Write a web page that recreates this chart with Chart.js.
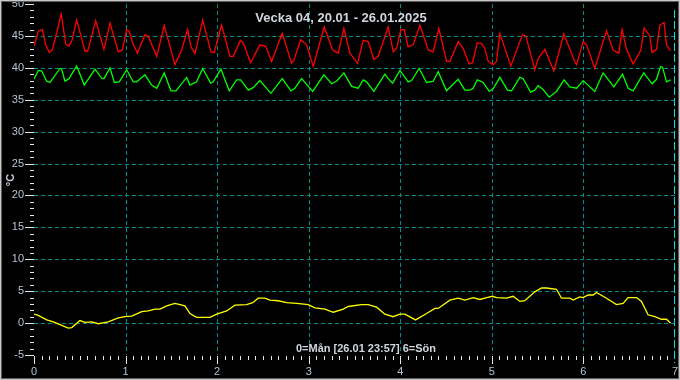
<!DOCTYPE html>
<html>
<head>
<meta charset="utf-8">
<script src="https://cdn.jsdelivr.net/npm/chart.js@4"></script>
<style>
html,body{margin:0;padding:0;background:#000;}
canvas{display:block;}
</style>
</head>
<body>
<canvas id="c" width="680" height="380"></canvas>
<script>
// ---- data (x = day since Monday 0:00, y = °C) ----
const chartTitle = 'Vecka 04, 20.01 - 26.01.2025';
const footerText = '0=Mån [26.01 23:57] 6=Sön';
const yTitle = '°C';
const xTickLabels = ['0','1','2','3','4','5','6','7'];

const redDays = [0.000,0.047,0.091,0.128,0.167,0.200,0.298,0.346,0.382,0.418,0.466,0.557,0.586,0.674,0.764,0.830,0.920,0.964,1.012,1.040,1.078,1.128,1.212,1.248,1.340,1.422,1.539,1.612,1.678,1.714,1.758,1.842,1.932,1.968,2.049,2.140,2.176,2.254,2.285,2.366,2.467,2.529,2.595,2.711,2.813,2.838,2.912,2.977,3.049,3.169,3.261,3.322,3.384,3.450,3.534,3.595,3.650,3.712,3.759,3.868,3.923,3.960,4.007,4.043,4.086,4.141,4.214,4.305,4.359,4.421,4.505,4.541,4.632,4.687,4.752,4.789,4.840,4.887,4.924,4.960,5.014,5.051,5.087,5.207,5.335,5.371,5.469,5.506,5.579,5.677,5.786,5.906,5.925,5.997,6.034,6.124,6.252,6.324,6.386,6.422,6.470,6.543,6.627,6.663,6.725,6.750,6.798,6.834,6.881,6.907,6.951];
const redTemps = [43.4,45.7,46.0,43.6,42.4,42.8,48.4,43.7,43.4,44.4,47.5,42.6,42.6,47.4,42.9,47.0,42.5,42.8,46.0,45.7,43.9,42.3,45.2,44.9,41.8,46.6,40.5,42.8,46.0,43.3,42.2,47.5,42.5,42.4,46.7,41.8,41.8,44.3,43.9,40.8,43.6,43.4,41.0,45.4,40.7,41.2,44.4,43.6,40.2,46.4,42.8,42.3,46.2,42.3,40.7,44.3,44.1,41.3,41.8,46.4,42.5,43.1,46.0,46.0,43.3,43.6,46.7,42.8,42.5,46.2,41.0,41.0,44.1,43.0,40.6,40.8,43.9,43.8,43.0,41.0,40.5,41.0,45.4,40.3,45.2,45.0,39.7,41.5,42.9,39.5,45.3,41.0,40.5,44.1,43.6,39.9,45.8,42.8,42.3,46.0,42.9,40.6,42.8,46.2,45.0,42.4,42.9,46.7,47.1,43.6,42.7];

const greenDays = [0.000,0.047,0.084,0.139,0.175,0.284,0.302,0.338,0.382,0.466,0.549,0.666,0.739,0.764,0.830,0.877,0.931,1.012,1.084,1.121,1.212,1.285,1.340,1.422,1.496,1.550,1.667,1.703,1.776,1.842,1.929,1.957,2.041,2.132,2.213,2.257,2.339,2.394,2.467,2.587,2.711,2.806,2.849,2.922,3.043,3.166,3.250,3.304,3.384,3.468,3.540,3.595,3.632,3.712,3.832,3.868,3.916,3.996,4.086,4.123,4.206,4.287,4.359,4.414,4.505,4.632,4.705,4.760,4.796,4.840,4.905,4.971,5.014,5.087,5.171,5.215,5.306,5.342,5.423,5.469,5.506,5.560,5.626,5.706,5.789,5.852,5.925,5.997,6.124,6.215,6.332,6.427,6.488,6.543,6.659,6.750,6.798,6.842,6.864,6.907,6.951];
const greenTemps = [38.2,39.6,39.5,37.9,37.7,39.9,39.8,37.9,38.3,40.3,37.3,39.8,38.4,38.3,40.0,37.7,37.8,39.7,37.8,37.8,38.9,37.3,36.8,39.2,36.4,36.4,38.5,37.3,37.8,39.9,37.6,37.8,39.8,36.4,38.1,38.1,36.5,36.9,38.0,36.0,38.3,36.4,36.8,38.3,36.3,38.9,37.5,37.9,39.2,37.1,36.8,38.1,37.8,36.3,39.0,38.3,37.6,39.6,37.8,38.0,39.9,37.7,37.9,39.4,36.4,38.2,36.5,36.5,36.8,38.1,37.7,36.3,36.7,38.5,36.5,36.4,38.5,38.3,36.2,36.5,37.2,36.6,35.4,36.3,38.1,37.0,36.8,38.0,36.3,39.2,37.0,39.0,36.8,36.4,39.2,37.5,38.2,40.2,40.1,37.8,38.1];

const yellowDays = [0.000,0.047,0.139,0.211,0.374,0.412,0.502,0.557,0.630,0.702,0.811,0.920,0.993,1.067,1.176,1.248,1.321,1.376,1.449,1.539,1.648,1.703,1.776,1.921,1.995,2.104,2.194,2.322,2.388,2.449,2.522,2.576,2.667,2.759,2.868,2.995,3.068,3.177,3.268,3.377,3.431,3.577,3.650,3.741,3.832,3.922,3.996,4.050,4.167,4.287,4.378,4.414,4.541,4.632,4.705,4.796,4.869,4.942,5.007,5.051,5.160,5.233,5.306,5.360,5.469,5.543,5.597,5.706,5.761,5.852,5.888,5.961,5.997,6.051,6.106,6.143,6.252,6.361,6.433,6.488,6.580,6.634,6.706,6.779,6.853,6.907,6.951];
const yellowTemps = [1.4,1.2,0.5,0.2,-0.8,-0.7,0.4,0.1,0.2,-0.1,0.2,0.8,1.0,1.1,1.8,1.9,2.2,2.2,2.7,3.1,2.7,1.5,0.9,0.9,1.4,1.9,2.8,2.9,3.2,3.9,3.9,3.6,3.5,3.2,3.1,2.9,2.4,2.2,1.7,2.2,2.6,2.9,2.9,2.5,1.4,1.0,1.4,1.4,0.5,1.5,2.3,2.3,3.6,3.9,3.6,4.0,3.7,4.0,4.2,4.0,3.9,4.2,3.4,3.5,4.9,5.5,5.5,5.3,3.9,3.9,3.6,4.1,4.0,4.4,4.4,4.8,3.9,2.9,3.1,4.0,4.0,3.4,1.3,1.0,0.6,0.6,0.0];

const zip = (xs, ys) => xs.map((x, i) => ({x, y: ys[i]}));

const GRID = '#008c8c';
const LABEL = '#b4c4d4';
const TEXT = '#d0d6de';

const framePlugin = {
  id: 'frame',
  beforeDraw(chart) {
    const c = chart.ctx;
    c.save();
    c.fillStyle = '#000';
    c.fillRect(0, 0, chart.width, chart.height);
    c.restore();
  },
  beforeDatasetsDraw(chart) {
    const c = chart.ctx;
    const xs = chart.scales.x, ys = chart.scales.y;
    const a = chart.chartArea;
    c.save();
    c.lineWidth = 1;
    c.strokeStyle = GRID;
    c.setLineDash([4, 3]);
    for (let v = 0; v <= 45; v += 5) {
      const py = Math.round(ys.getPixelForValue(v)) + 0.5;
      c.beginPath(); c.moveTo(a.left, py); c.lineTo(a.right, py); c.stroke();
    }
    for (let d = 1; d <= 6; d++) {
      const px = Math.round(xs.getPixelForValue(d)) + 0.5;
      c.beginPath(); c.moveTo(px, a.top); c.lineTo(px, a.bottom); c.stroke();
    }
    c.strokeStyle = '#00e0e8';
    c.setLineDash([8, 3]);
    const pr = Math.round(xs.getPixelForValue(7)) - 0.5;
    c.beginPath(); c.moveTo(pr, a.top + 6); c.lineTo(pr, a.bottom + 8); c.stroke();
    c.setLineDash([]);
    c.strokeStyle = '#e8e8e8';
    for (let v = -5; v <= 50; v++) {
      const py = Math.round(ys.getPixelForValue(v)) + 0.5;
      const len = (v % 5 === 0) ? 9 : 4;
      c.beginPath(); c.moveTo(a.left - len, py); c.lineTo(a.left, py); c.stroke();
    }
    for (let k = 0; k < 84; k++) {
      const px = Math.round(xs.getPixelForValue(k / 12)) + 0.5;
      const len = (k % 12 === 0) ? 8 : 4;
      c.beginPath(); c.moveTo(px, a.bottom + 1); c.lineTo(px, a.bottom + 1 + len); c.stroke();
    }
    c.restore();
  },
  afterDraw(chart) {
    const c = chart.ctx;
    c.save();
    c.fillStyle = TEXT;
    c.textAlign = 'center';
    c.textBaseline = 'middle';
    c.font = 'bold 13px "Liberation Sans", Arial, sans-serif';
    c.fillText(chartTitle, 341, 18);
    c.font = 'bold 11px "Liberation Sans", Arial, sans-serif';
    c.fillText(footerText, 366, 349);
    c.translate(11, 180);
    c.rotate(-Math.PI / 2);
    c.fillText(yTitle, 0, 0);
    c.restore();
    c.save();
    c.strokeStyle = '#c8c8c8';
    c.lineWidth = 1;
    c.strokeRect(0.5, 0.5, chart.width - 1, chart.height - 1);
    c.strokeStyle = '#606060';
    c.strokeRect(1.5, 1.5, chart.width - 3, chart.height - 3);
    c.restore();
  }
};

new Chart(document.getElementById('c'), {
  type: 'line',
  data: {
    datasets: [
      {data: zip(redDays, redTemps), borderColor: '#ff0000', borderWidth: 1.3, pointRadius: 0, tension: 0},
      {data: zip(greenDays, greenTemps), borderColor: '#00ff00', borderWidth: 1.3, pointRadius: 0, tension: 0},
      {data: zip(yellowDays, yellowTemps), borderColor: '#ffff00', borderWidth: 1.3, pointRadius: 0, tension: 0}
    ]
  },
  options: {
    responsive: false,
    animation: false,
    devicePixelRatio: 1,
    layout: {padding: {top: 4, right: 5, left: 0, bottom: 0}},
    plugins: {legend: {display: false}, tooltip: {enabled: false}, title: {display: false}},
    scales: {
      x: {
        type: 'linear', min: 0, max: 7,
        afterFit(s) { s.height = 25; s.paddingLeft = 0; s.paddingRight = 0; },
        grid: {display: false, drawTicks: false},
        border: {display: false},
        ticks: {
          stepSize: 1, autoSkip: false, maxRotation: 0, padding: 10,
          color: LABEL, font: {family: '"Liberation Sans", Arial, sans-serif', size: 11},
          callback: (v) => xTickLabels[v] ?? ''
        }
      },
      y: {
        min: -5, max: 50,
        afterFit(s) { s.width = 34; s.paddingTop = 0; s.paddingBottom = 0; },
        grid: {display: false, drawTicks: false},
        border: {display: false},
        ticks: {
          stepSize: 5, padding: 10,
          color: LABEL, font: {family: '"Liberation Sans", Arial, sans-serif', size: 11}
        }
      }
    }
  },
  plugins: [framePlugin]
});
</script>
</body>
</html>
